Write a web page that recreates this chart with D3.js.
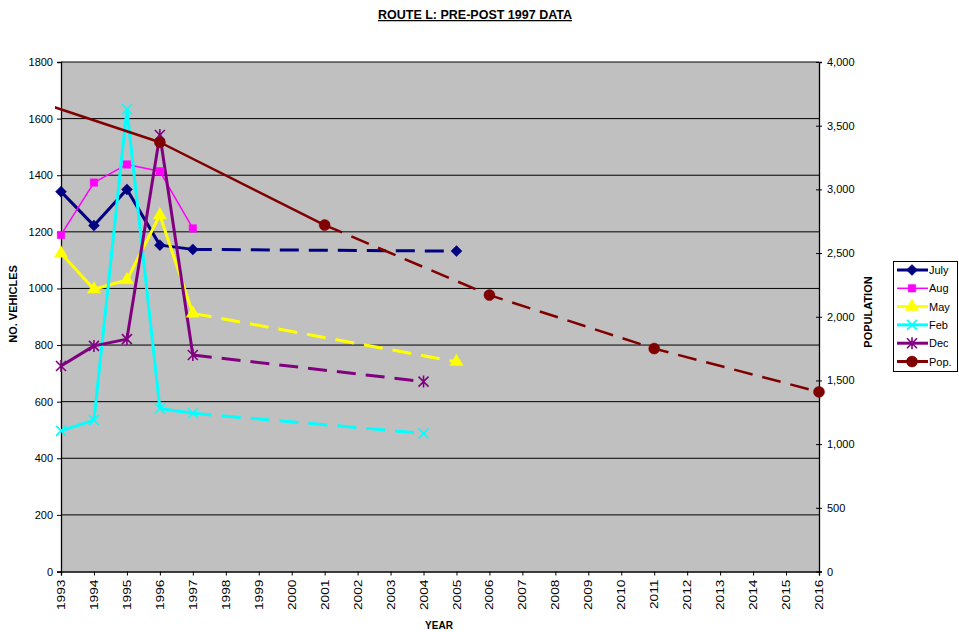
<!DOCTYPE html>
<html>
<head>
<meta charset="utf-8">
<script src="https://cdn.jsdelivr.net/npm/d3@7/dist/d3.min.js"></script>
<style>
  html, body { margin: 0; padding: 0; background: #ffffff; }
  svg { display: block; font-family: "Liberation Sans", Arial, sans-serif; }
</style>
</head>
<body>
<svg id="chart" width="959" height="632"></svg>
<script>
// Year axis tick labels
const yearTicks = d3.range(1993, 2017);
const vehicleTicks = [0, 200, 400, 600, 800, 1000, 1200, 1400, 1600, 1800];
const populationTicks = [0, 500, 1000, 1500, 2000, 2500, 3000, 3500, 4000];

// Vehicle counts by month (survey years), and population
const julyYears = [1993, 1994, 1995, 1996, 1997, 2005];
const julyValues = [1342, 1222, 1350, 1153, 1138, 1132];

const augYears = [1993, 1994, 1995, 1996, 1997];
const augValues = [1189, 1374, 1438, 1414, 1212];

const mayYears = [1993, 1994, 1995, 1996, 1997, 2005];
const mayValues = [1124, 997, 1030, 1259, 912, 741];

const febYears = [1993, 1994, 1995, 1996, 1997, 2004];
const febValues = [497, 535, 1633, 576, 559, 488];

const decYears = [1993, 1994, 1995, 1996, 1997, 2004];
const decValues = [726, 797, 821, 1542, 765, 671];

const popYears = [1991, 1996, 2001, 2006, 2011, 2016];
const popValues = [3800, 3370, 2720, 2170, 1750, 1410];

const seriesDefs = [
  { name: "July", years: julyYears, values: julyValues, color: "#000080", width: 3, marker: "diamond", split: 1997, axis: "left" },
  { name: "Aug", years: augYears, values: augValues, color: "#ff00ff", width: 1.5, marker: "square", split: 1997, axis: "left" },
  { name: "May", years: mayYears, values: mayValues, color: "#ffff00", width: 3, marker: "triangle", split: 1997, axis: "left" },
  { name: "Feb", years: febYears, values: febValues, color: "#00ffff", width: 3, marker: "x", split: 1997, axis: "left" },
  { name: "Dec", years: decYears, values: decValues, color: "#800080", width: 3, marker: "star", split: 1997, axis: "left" },
  { name: "Pop.", years: popYears, values: popValues, color: "#800000", width: 2.5, marker: "circle", split: 2001, axis: "right" }
];

const svg = d3.select("#chart");
const plot = { left: 61, right: 819, top: 62, bottom: 571.5 };

const x = d3.scaleLinear().domain([1993, 2016]).range([plot.left, plot.right]);
const yLeft = d3.scaleLinear().domain([0, 1800]).range([plot.bottom, plot.top]);
const yRight = d3.scaleLinear().domain([0, 4000]).range([plot.bottom, plot.top]);

// Plot background
svg.append("rect")
  .attr("x", plot.left).attr("y", plot.top)
  .attr("width", plot.right - plot.left).attr("height", plot.bottom - plot.top)
  .attr("fill", "#c0c0c0");

// Horizontal gridlines
svg.append("g")
  .selectAll("line")
  .data(vehicleTicks.filter(d => d > 0))
  .join("line")
  .attr("x1", plot.left).attr("x2", plot.right)
  .attr("y1", d => yLeft(d)).attr("y2", d => yLeft(d))
  .attr("stroke", "#000").attr("stroke-width", 1);

// Left axis
const leftAxis = svg.append("g")
  .attr("transform", `translate(${plot.left},0)`)
  .call(d3.axisLeft(yLeft).tickValues(vehicleTicks).tickSize(4).tickPadding(4).tickFormat(d3.format("d")));
leftAxis.select(".domain").attr("stroke", "#000").attr("stroke-width", 1.3);
leftAxis.selectAll("text").attr("font-size", 11).attr("fill", "#000").attr("font-family", "Liberation Sans, Arial, sans-serif");

// Right axis
const rightAxis = svg.append("g")
  .attr("transform", `translate(${plot.right},0)`)
  .call(d3.axisRight(yRight).tickValues(populationTicks).tickSize(3).tickPadding(5).tickFormat(d3.format(",")));
rightAxis.select(".domain").attr("stroke", "#000").attr("stroke-width", 1.3);
rightAxis.selectAll(".tick line").attr("x1", -3);
rightAxis.selectAll("text").attr("font-size", 11).attr("fill", "#000").attr("font-family", "Liberation Sans, Arial, sans-serif");

// Bottom axis
const bottomAxis = svg.append("g")
  .attr("transform", `translate(0,${plot.bottom})`)
  .call(d3.axisBottom(x).tickValues(yearTicks).tickSize(4).tickFormat(d3.format("d")));
bottomAxis.select(".domain").attr("stroke", "#000").attr("stroke-width", 1.3);
bottomAxis.selectAll("text")
  .attr("font-size", 11)
  .attr("fill", "#000")
  .attr("font-family", "Liberation Sans, Arial, sans-serif")
  .attr("text-anchor", "end")
  .attr("dy", null)
  .attr("y", 0)
  .attr("dominant-baseline", "central")
  .attr("transform", "translate(0,8) rotate(-90) scale(1.25,1)");

// Clip for line rendering (population line starts just left of the axis)
svg.append("clipPath").attr("id", "lineClip")
  .append("rect")
  .attr("x", plot.left - 6).attr("y", 0)
  .attr("width", plot.right - plot.left + 20).attr("height", 632);

const marks = svg.append("g");
const lines = marks.append("g").attr("clip-path", "url(#lineClip)");

function markerPath(type) {
  switch (type) {
    case "diamond": return "M0,-5.5L5.5,0L0,5.5L-5.5,0Z";
    case "square": return d3.symbol(d3.symbolSquare, 56)();
    case "triangle": return d3.symbol(d3.symbolTriangle, 75)();
    case "circle": return d3.symbol(d3.symbolCircle, 95)();
    case "x": return "M-5,-5L5,5M-5,5L5,-5";
    case "star": return "M-5,-5L5,5M-5,5L5,-5M0,-6L0,6";
  }
}

seriesDefs.forEach(s => {
  const yScale = s.axis === "left" ? yLeft : yRight;
  const pts = s.years.map((yr, i) => ({ year: yr, value: s.values[i] }));
  const solid = pts.filter(p => p.year <= s.split);
  const dashed = pts.filter(p => p.year >= s.split);
  const lineGen = d3.line().x(p => x(p.year)).y(p => yScale(p.value));

  lines.append("path")
    .attr("d", lineGen(solid))
    .attr("fill", "none").attr("stroke", s.color)
    .attr("stroke-width", s.width).attr("stroke-linejoin", "round");

  if (dashed.length > 1) {
    lines.append("path")
      .attr("d", lineGen(dashed))
      .attr("fill", "none").attr("stroke", s.color)
      .attr("stroke-width", s.width).attr("stroke-dasharray", "19,10");
  }

  const isStroked = s.marker === "x" || s.marker === "star";
  marks.append("g")
    .selectAll("path")
    .data(pts.filter(p => p.year >= 1993 && p.year <= 2016))
    .join("path")
    .attr("transform", p => `translate(${x(p.year)},${yScale(p.value)})`)
    .attr("d", markerPath(s.marker))
    .attr("fill", isStroked ? "none" : s.color)
    .attr("stroke", s.color)
    .attr("stroke-width", isStroked ? 1.6 : 0.5);
});

// Title
svg.append("text")
  .attr("x", 475).attr("y", 19)
  .attr("text-anchor", "middle")
  .attr("font-size", 12.5).attr("font-weight", "bold")
  .style("text-decoration", "underline")
  .text("ROUTE L: PRE-POST 1997 DATA");

// Axis titles
svg.append("text")
  .attr("transform", "translate(17,304) rotate(-90)")
  .attr("text-anchor", "middle")
  .attr("font-size", 11).attr("font-weight", "bold")
  .text("NO. VEHICLES");

svg.append("text")
  .attr("transform", "translate(872,312) rotate(-90)")
  .attr("text-anchor", "middle")
  .attr("font-size", 11).attr("font-weight", "bold")
  .text("POPULATION");

svg.append("text")
  .attr("x", 439).attr("y", 629)
  .attr("text-anchor", "middle")
  .attr("font-size", 10).attr("font-weight", "bold")
  .text("YEAR");

// Legend
const legend = svg.append("g");
legend.append("rect")
  .attr("x", 893.5).attr("y", 261.5).attr("width", 64).attr("height", 110)
  .attr("fill", "#fff").attr("stroke", "#000").attr("stroke-width", 1);

const legendItems = legend.selectAll("g.item")
  .data(seriesDefs)
  .join("g")
  .attr("class", "item")
  .attr("transform", (d, i) => `translate(0,${270 + i * 18.3})`);

legendItems.append("line")
  .attr("x1", 897).attr("x2", 928).attr("y1", 0).attr("y2", 0)
  .attr("stroke", d => d.color).attr("stroke-width", d => d.width === 1.5 ? 1.5 : 3);

legendItems.append("path")
  .attr("transform", "translate(912,0)")
  .attr("d", d => markerPath(d.marker))
  .attr("fill", d => (d.marker === "x" || d.marker === "star") ? "none" : d.color)
  .attr("stroke", d => d.color)
  .attr("stroke-width", d => (d.marker === "x" || d.marker === "star") ? 1.6 : 0.5);

legendItems.append("text")
  .attr("x", 929).attr("y", 0)
  .attr("dominant-baseline", "central")
  .attr("font-size", 11)
  .text(d => d.name);
</script>
</body>
</html>
